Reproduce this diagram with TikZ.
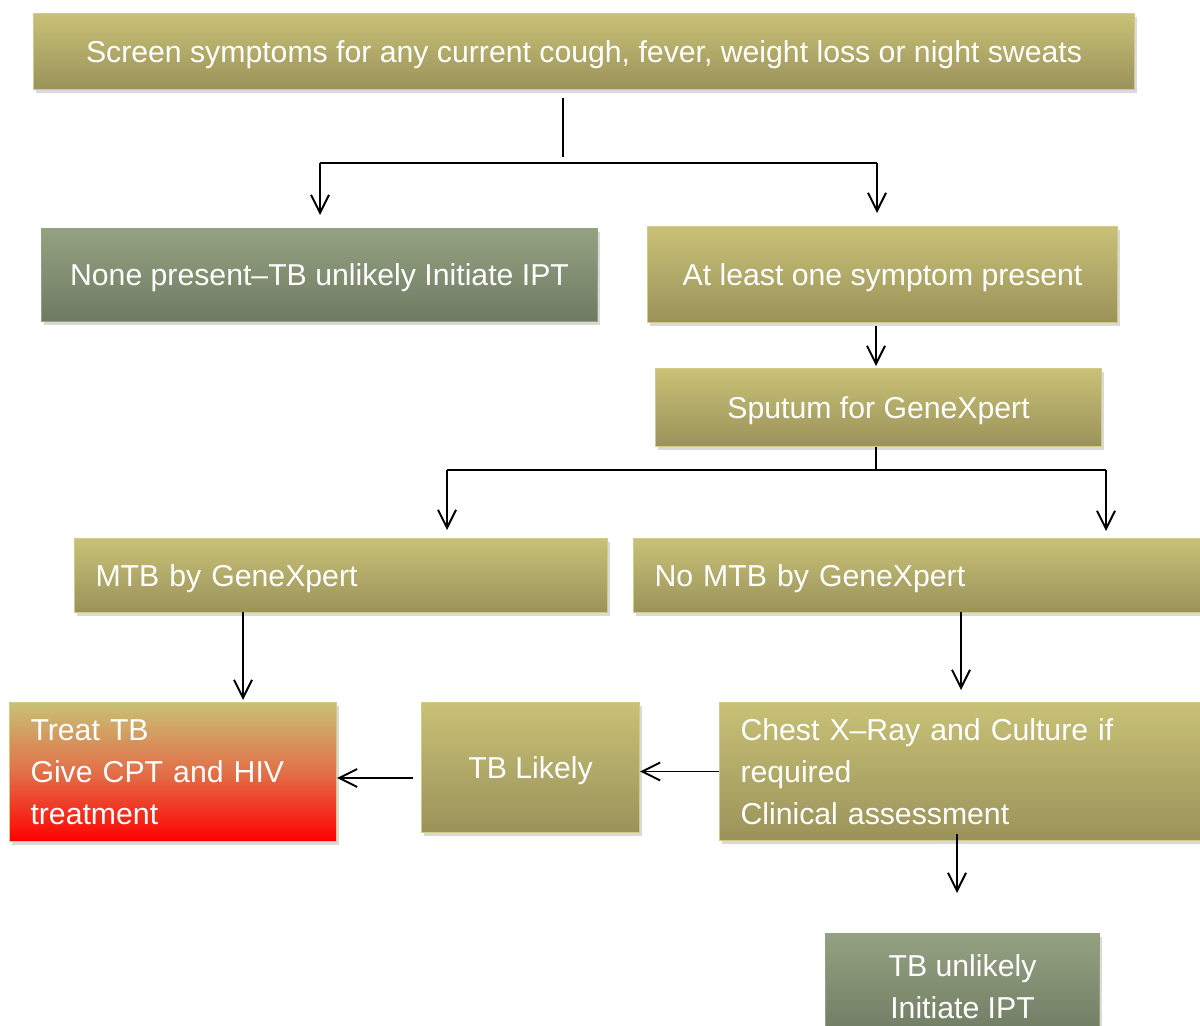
\documentclass[tikz,border=0pt]{standalone}
\usepackage{fontspec}
\setmainfont{Liberation Sans}
\usetikzlibrary{arrows.meta,shadows}

\newlength\px
\setlength\px{0.02cm}

\definecolor{olivetop}{RGB}{200,193,118}
\definecolor{olivebot}{RGB}{155,146,90}
\definecolor{oliveline}{RGB}{210,202,135}
\definecolor{greentop}{RGB}{148,161,129}
\definecolor{greenbot}{RGB}{110,123,98}
\definecolor{redmid}{RGB}{226,112,72}

\tikzset{
  box/.style={draw=oliveline, line width=0.6pt, text=white, inner sep=0pt,
    font=\fontsize{17.2}{23.8}\selectfont, anchor=north west,
    drop shadow={shadow xshift=1.5pt, shadow yshift=-2pt, opacity=0.3}},
  oneline/.style={text depth=0pt},
  olivebox/.style={box, top color=olivetop, bottom color=olivebot},
  greenbox/.style={box, draw=greentop, top color=greentop, bottom color=greenbot},
  redbox/.style={box, top color=olivetop, bottom color=red, middle color=redmid},
  leftbox/.style={align=left, inner xsep=21\px},
  flow/.style={line width=1.1pt, -{Straight Barb[length=0.36cm,width=0.36cm]}},
  link/.style={line width=1.1pt}
}

\begin{document}
\begin{tikzpicture}[x=1\px, y=-1\px]
  \clip (0,0) rectangle (1200,1026);

  % boxes
  \node[olivebox, oneline, minimum width=1101\px, minimum height=76\px] (screen) at (33,13)
    {Screen symptoms for any current cough, fever, weight loss or night sweats};
  \node[greenbox, oneline, minimum width=556\px, minimum height=93\px] (none) at (41,228)
    {None present--TB unlikely Initiate IPT};
  \node[olivebox, oneline, minimum width=470\px, minimum height=96\px] (atleast) at (647,226)
    {At least one symptom present};
  \node[olivebox, oneline, minimum width=446\px, minimum height=78\px] (sputum) at (655,368)
    {Sputum for GeneXpert};
  \node[olivebox, oneline, leftbox, text width=491\px, minimum height=74\px] (mtb) at (74,538)
    {MTB by GeneXpert};
  \node[olivebox, oneline, leftbox, text width=560\px, minimum height=74\px] (nomtb) at (633,538)
    {No MTB by GeneXpert};
  \node[redbox, leftbox, text width=285\px, minimum height=139\px] (treat) at (9,702)
    {Treat TB\\Give CPT and HIV\\treatment};
  \node[olivebox, oneline, minimum width=218\px, minimum height=130\px] (likely) at (421,702)
    {TB Likely};
  \node[olivebox, leftbox, text width=480\px, minimum height=138\px] (chest) at (719,702)
    {Chest X--Ray and Culture if\\required\\Clinical assessment};
  \node[greenbox, align=center, minimum width=274\px, minimum height=106\px] (unlikely) at (825,933)
    {TB unlikely\\Initiate IPT};

  % junctions
  \coordinate (s1) at (563,98);
  \coordinate (s2) at (563,157);
  \coordinate (jl) at (320,163);
  \coordinate (jr) at (877,163);
  \coordinate (j2) at (876,470);
  \coordinate (kl) at (447,470);
  \coordinate (kr) at (1106,470);
  \coordinate (m1) at (243,612);
  \coordinate (n1) at (961,612);
  \coordinate (t1) at (413,778);
  \coordinate (c1) at (957,834);

  % connectors
  \draw[link] (s1) -- (s2);
  \draw[link] (jl) -- (jr);
  \draw[flow, shorten >=0.26cm] (jl) -- (jl |- none.north);
  \draw[flow, shorten >=0.26cm] (jr) -- (jr |- atleast.north);
  \draw[flow, shorten <=0.06cm, shorten >=0.04cm] (j2 |- atleast.south) -- (j2 |- sputum.north);
  \draw[link] (j2 |- sputum.south) -- (j2);
  \draw[link] (kl) -- (kr);
  \draw[flow, shorten >=0.16cm] (kl) -- (kl |- mtb.north);
  \draw[flow, shorten >=0.14cm] (kr) -- (kr |- nomtb.north);
  \draw[flow, shorten >=0.04cm] (m1) -- (m1 |- treat.north);
  \draw[flow, shorten >=0.24cm] (n1) -- (n1 |- chest.north);
  \draw[flow] (chest.west) -- (chest.west -| likely.east);
  \draw[flow] (t1) -- (t1 -| treat.east);
  \draw[flow, shorten >=0.8cm] (c1) -- (c1 |- unlikely.north);
\end{tikzpicture}
\end{document}
